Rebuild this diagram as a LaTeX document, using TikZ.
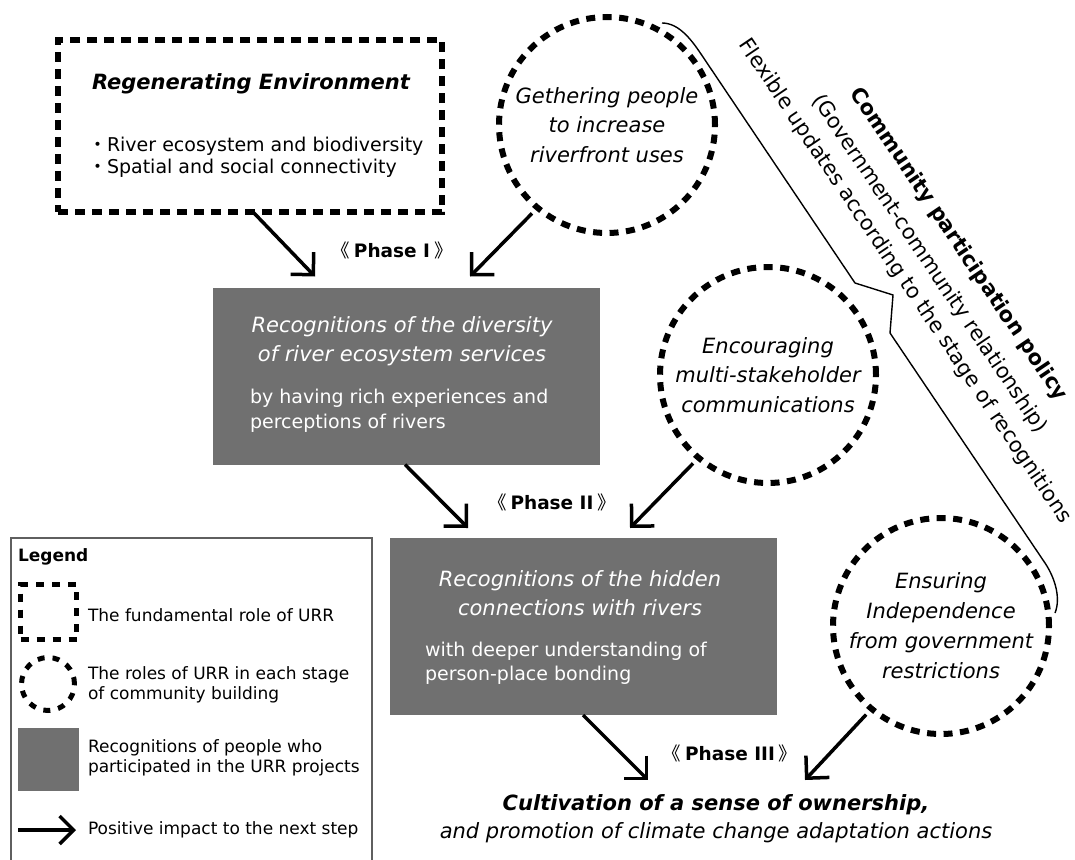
\documentclass[tikz,border=0pt]{standalone}
\usepackage{fontspec}
\setmainfont{DejaVu Sans}
\newfontfamily\cjk{Noto Sans CJK SC}
\usetikzlibrary{arrows.meta}
\definecolor{boxgray}{RGB}{112,112,112}
\definecolor{legline}{RGB}{95,95,95}
\begin{document}
\begin{tikzpicture}[x=1pt,y=-1pt,
  every node/.style={inner sep=0pt, outer sep=0pt},
  rolebox/.style={draw=black, line width=6pt, dash pattern=on 10pt off 7pt, minimum width=384pt, minimum height=172pt},
  rolecirc/.style={circle, draw=black, line width=6pt, dash pattern=on 9pt off 7.5pt, minimum size=216pt, align=center, font=\fontsize{21}{29.5}\selectfont\itshape},
  recbox/.style={fill=boxgray, minimum width=387pt, minimum height=177pt},
  titletext/.style={text=white, align=center, font=\fontsize{21}{28.5}\selectfont\itshape},
  bodytext/.style={text=white, align=left, anchor=west, font=\fontsize{19}{24.5}\selectfont},
  phase/.style={font=\fontsize{18.5}{22}\selectfont\bfseries},
  impact/.style={line width=3.5pt, -{Straight Barb[length=16pt,width=32pt,sharp]}},
  legtext/.style={anchor=west, align=left, font=\fontsize{17}{20}\selectfont},
  policy/.style={rotate=-56, font=\fontsize{21}{25}\selectfont},
]
\useasboundingbox (0,0) rectangle (1075,859);

% fundamental role box
\node[rolebox] (reg) at (250,126) {};
\node[font=\fontsize{21}{25}\selectfont\bfseries\itshape] (regt) at (251,84) {Regenerating Environment};
\node[anchor=west, align=left, font=\fontsize{19}{22}\selectfont] (regl) at (88,157) {{\cjk ・}River ecosystem and biodiversity\\{\cjk ・}Spatial and social connectivity};

% role circles
\node[rolecirc] (c1) at (607,125) {Gethering people\\to increase\\riverfront uses};
\node[rolecirc] (c2) at (768,375) {Encouraging\\multi-stakeholder\\communications};
\node[rolecirc, font=\fontsize{21}{30}\selectfont\itshape] (c3) at (941,626) {Ensuring\\Independence\\from government\\restrictions};

% recognition boxes
\node[recbox] (rec1) at (406.5,376) {};
\node[titletext] (rec1t) at (402,341) {Recognitions of the diversity\\of river ecosystem services};
\node[bodytext] (rec1b) at (250,411) {by having rich experiences and\\perceptions of rivers};
\node[recbox] (rec2) at (583.5,626.5) {};
\node[titletext] (rec2t) at (580,593) {Recognitions of the hidden\\connections with rivers};
\node[bodytext] (rec2b) at (425,663) {with deeper understanding of\\person-place bonding};

% phases
\node[phase] (ph1) at (392,250) {{\cjk\mdseries 《}\kern4pt Phase I\kern4pt{\cjk\mdseries 》}};
\node[phase] (ph2) at (552,502) {{\cjk\mdseries 《}\kern4pt Phase II\kern4pt{\cjk\mdseries 》}};
\node[phase] (ph3) at (730,753) {{\cjk\mdseries 《}\kern4pt Phase III\kern4pt{\cjk\mdseries 》}};

% outcome
\node[align=center, font=\fontsize{21}{28}\selectfont\itshape] (own) at (716,819) {{\bfseries Cultivation of a sense of ownership,}\\and promotion of climate change adaptation actions};
\coordinate (t5) at (648,780);
\coordinate (t6) at (805,780);

% arrows
\draw[impact] ([xshift=3pt]reg.south) -- ([xshift=102pt,yshift=11pt]rec1.north west);
\draw[impact, shorten <=8pt] (c1.230) -- ([xshift=257pt,yshift=11pt]rec1.north west);
\draw[impact] ([xshift=192pt]rec1.south west) -- ([xshift=78pt,yshift=10pt]rec2.north west);
\draw[impact, shorten <=8pt] (c2.230) -- ([xshift=240pt,yshift=10pt]rec2.north west);
\draw[impact] ([xshift=193pt]rec2.south west) -- (t5);
\draw[impact, shorten <=8pt] (c3.230) -- (t6);

% policy bracket
\coordinate (b0) at (662,23);
\coordinate (b1) at (703,57);
\coordinate (b2) at (855,283);
\coordinate (b3) at (893,295);
\coordinate (b4) at (890,333);
\coordinate (b5) at (1045,563);
\coordinate (b6) at (1055,613);
\draw[line width=1.4pt] (b0) .. controls (680,23) and (693,42) .. (b1) -- (b2) -- (b3) -- (b4) -- (b5) .. controls (1055,578) and (1061,598) .. (b6);
\node[policy] (pol1) at (904.6,281.0) {Flexible updates according to the stage of recognitions};
\node[policy] (pol2) at (929.5,264.2) {(Government-community relationship)};
\node[policy, font=\fontsize{21}{25}\selectfont\bfseries] (pol3) at (958.5,244.6) {Community participation policy};

% legend
\draw[legline, line width=1.5pt] (11,870) -- (11,538) -- (372,538) -- (372,870);
\node[anchor=west, font=\fontsize{17}{20}\selectfont\bfseries] (legT) at (18,557) {Legend};
\node[draw, line width=5pt, dash pattern=on 8pt off 8pt, minimum width=56pt, minimum height=55pt] (lg1) at (48.5,612) {};
\node[legtext] (lt1) at (88,615) {The fundamental role of URR};
\node[circle, draw, line width=5pt, dash pattern=on 7pt off 8pt, minimum size=53pt] (lg2) at (48,684) {};
\node[legtext] (lt2) at (88,685) {The roles of URR in each stage\\of community building};
\node[fill=boxgray, minimum width=61pt, minimum height=63pt] (lg3) at (48.5,759.5) {};
\node[legtext] (lt3) at (88,758) {Recognitions of people who\\participated in the URR projects};
\coordinate (la) at (18,830);
\coordinate (lb) at (76,830);
\draw[line width=3.5pt, -{Straight Barb[length=14pt,width=28pt,sharp]}] (la) -- (lb);
\node[legtext] (lt4) at (88,830) {Positive impact to the next step};
\end{tikzpicture}
\end{document}
